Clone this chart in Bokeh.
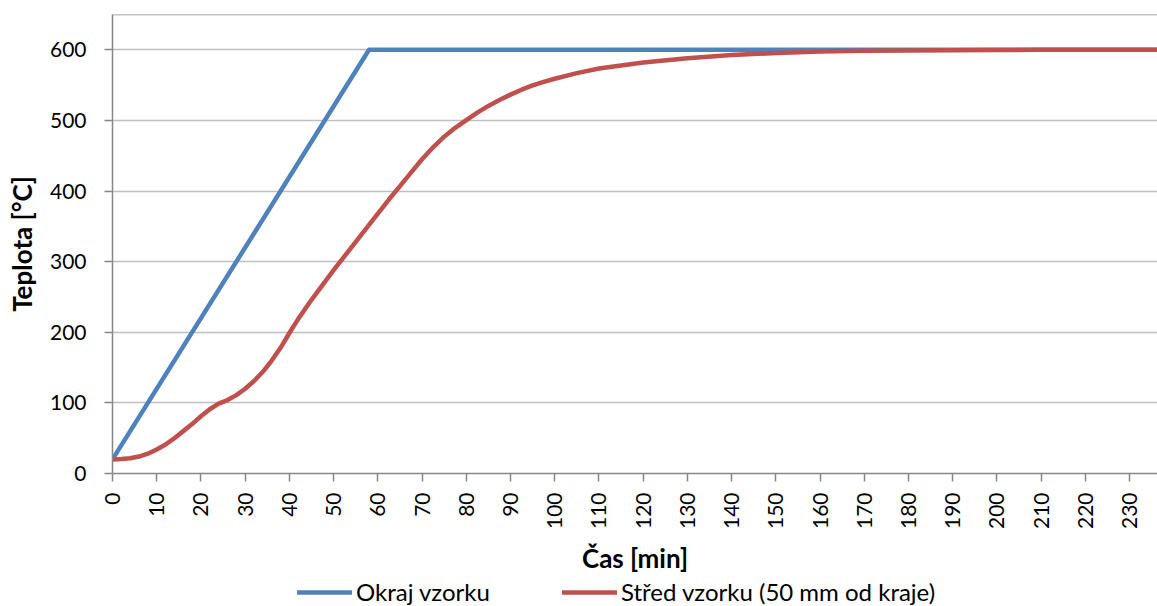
import math
from bokeh.plotting import figure
from bokeh.layouts import column
from bokeh.models import Range1d, FixedTicker, Span, Legend, LegendItem
from bokeh.embed import file_html
from bokeh.resources import INLINE

# ---- data ----
edge_time = [0, 58, 236]
edge_temp = [20, 600, 600]

center_time = [0, 2, 4, 6, 8, 10, 12, 14, 16, 18, 20, 22, 24, 26, 28, 30, 32, 34, 36, 38,
               40, 42, 45, 50, 55, 60, 62.5, 65, 67.5, 70, 72.5, 75, 77.5, 80, 82.5, 85, 87.5,
               90, 92.5, 95, 97.5, 100, 105, 110, 120, 130,
               140, 150, 160, 170, 180, 190, 200, 210, 220, 230, 236]
center_temp = [20, 20.5, 21.5, 24, 28, 34, 41, 50, 60, 70, 81, 91, 99, 104, 111, 120, 131, 144, 160, 178,
               199, 219, 246, 288, 328, 368, 388, 407, 426, 445, 462, 477, 489.5, 500.5, 511, 520.5, 529,
               536.5, 543.5, 549.5, 554.5, 559, 567, 573.5, 582, 588,
               592.5, 595.5, 597.5, 598.5, 599, 599.5, 599.7, 600, 600, 600, 600]

x_ticks = list(range(0, 231, 10))
y_ticks = list(range(0, 601, 100))

series_names = ["Okraj vzorku", "Střed vzorku (50 mm od kraje)"]
x_title = "Čas [min]"
y_title = "Teplota [°C]"

BLUE = "#4F81BD"
RED = "#C0504D"
AXIS = "#868686"
FONT = "Lato"
LW = 4.5

p = figure(width=1157, height=577, output_backend="svg", toolbar_location=None,
           x_range=Range1d(0, 236.3), y_range=Range1d(0, 650),
           min_border_left=112, min_border_right=0, min_border_top=14, min_border_bottom=104)
p.outline_line_color = None
p.background_fill_color = "white"
p.border_fill_color = "white"

r1 = p.line(edge_time, edge_temp, line_color=BLUE, line_width=LW, line_join="round", line_cap="round")
r2 = p.line(center_time, center_temp, line_color=RED, line_width=LW, line_join="round", line_cap="round")

p.add_layout(Span(location=650, dimension="width", line_color=AXIS, line_width=1.5))

p.xgrid.visible = False
p.ygrid.grid_line_color = "#BFBFBF"
p.ygrid.grid_line_width = 1.3
p.ygrid.ticker = FixedTicker(ticks=y_ticks)

xa = p.xaxis[0]
xa.ticker = FixedTicker(ticks=x_ticks)
xa.major_label_orientation = math.pi / 2
ya = p.yaxis[0]
ya.ticker = FixedTicker(ticks=y_ticks)

for ax in (xa, ya):
    ax.axis_line_color = AXIS
    ax.axis_line_width = 1.5
    ax.major_tick_line_color = AXIS
    ax.major_tick_line_width = 1.5
    ax.major_tick_in = 0
    ax.major_tick_out = 8
    ax.minor_tick_line_color = None
    ax.major_label_text_font = FONT
    ax.major_label_text_font_size = "21px"
    ax.major_label_text_color = "black"
    ax.axis_label_text_font = FONT
    ax.axis_label_text_font_size = "26px"
    ax.axis_label_text_font_style = "bold"
    ax.axis_label_text_color = "black"

xa.axis_label = x_title
ya.axis_label = y_title
ya.major_label_standoff = 18
ya.axis_label_standoff = 9
xa.major_label_standoff = 11
xa.axis_label_standoff = 10

# ---- legend strip below the chart (its renderers lie outside its view) ----
q = figure(width=1157, height=29, output_backend="svg", toolbar_location=None,
           x_range=Range1d(1000, 1001), y_range=Range1d(1000, 1001),
           min_border_left=0, min_border_right=0, min_border_top=0, min_border_bottom=0)
q.axis.visible = False
q.grid.visible = False
q.outline_line_color = None
q.border_fill_color = "white"
l1 = q.line(edge_time, edge_temp, line_color=BLUE, line_width=LW, line_cap="round")
l2 = q.line(center_time, center_temp, line_color=RED, line_width=LW, line_cap="round")

legend = Legend(items=[LegendItem(label=series_names[0], renderers=[l1]),
                       LegendItem(label=series_names[1], renderers=[l2])],
                orientation="horizontal", location=(185, 0),
                glyph_width=55, glyph_height=24, label_standoff=4, spacing=72,
                padding=0, margin=0, border_line_color=None, background_fill_alpha=0,
                label_text_font=FONT, label_text_font_size="24px", label_text_color="black")
q.add_layout(legend, "center")

layout = column(p, q, spacing=0)
open("out.html", "w").write(file_html(layout, INLINE))
